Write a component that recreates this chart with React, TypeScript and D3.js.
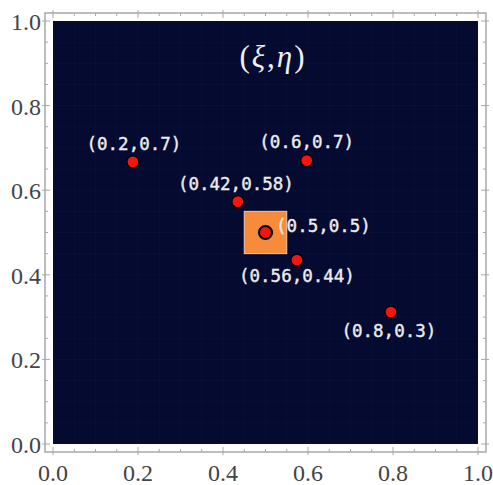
import React from "react";
import * as d3 from "d3";

const pointX = [0.188, 0.597, 0.435, 0.5, 0.574, 0.795];
const pointY = [0.667, 0.67, 0.573, 0.5, 0.435, 0.312];
const pointLabels = ["(0.2,0.7)", "(0.6,0.7)", "(0.42,0.58)", "(0.5,0.5)", "(0.56,0.44)", "(0.8,0.3)"];
const centerIndex = 3;
const squareRange = [0.45, 0.55];
const tickValues = [0, 0.2, 0.4, 0.6, 0.8, 1.0];
const tickLabels = ["0.0", "0.2", "0.4", "0.6", "0.8", "1.0"];
const titleParts = ["(", "ξ", ",", "η", ")"];

// layout (pixel offsets of labels from their points)
const labelDx = [1, 0, -2, 58, 0, -2];
const labelDy = [-18, -19, -18, -7, 16, 19];

const W = 493, H = 485;
const X0 = 53, X1 = 478, Y0 = 444, Y1 = 21;
const PAD = 8;

export default function App() {
  const x = d3.scaleLinear().domain([0, 1]).range([X0, X1]);
  const y = d3.scaleLinear().domain([0, 1]).range([Y0, Y1]);
  const minor = d3.range(0, 1.0001, 0.05);
  const grid = d3.range(0, 1.0001, 0.05);
  const fL = X0 - PAD, fR = X1 + PAD, fT = Y1 - PAD, fB = Y0 + PAD;
  const isMajor = (v: number) => Math.abs(v * 5 - Math.round(v * 5)) < 1e-6;
  const frameColor = "#a8a8a8";
  const serif = "'Liberation Serif', 'Times New Roman', serif";
  return (
    <svg width={W} height={H} style={{ position: "absolute", left: 0, top: 0, background: "#fff" }}>
      <rect x={fL} y={fT} width={fR - fL} height={fB - fT} fill="#fff" stroke={frameColor} strokeWidth={1.5} />
      {minor.map((v, i) => {
        const m = isMajor(v);
        const len = m ? 5 : 3;
        const out = m ? 3 : 0;
        return (
          <g key={"t" + i} stroke={frameColor} strokeWidth={1}>
            <line x1={x(v)} x2={x(v)} y1={fB + out} y2={fB - len} />
            <line x1={x(v)} x2={x(v)} y1={fT - out} y2={fT + len} />
            <line y1={y(v)} y2={y(v)} x1={fL - out} x2={fL + len} />
            <line y1={y(v)} y2={y(v)} x1={fR + out} x2={fR - len} />
          </g>
        );
      })}
      <rect x={X0} y={Y1} width={X1 - X0} height={Y0 - Y1} fill="#040a30" />
      <g stroke="#ffffff" strokeOpacity={0.025} strokeWidth={1}>
        {grid.map((v, i) => (
          <g key={"g" + i}>
            <line x1={x(v)} x2={x(v)} y1={Y1} y2={Y0} />
            <line y1={y(v)} y2={y(v)} x1={X0} x2={X1} />
          </g>
        ))}
      </g>
      {tickValues.map((v, i) => (
        <text key={"xl" + i} x={x(v)} y={473} textAnchor="middle" dominantBaseline="central"
          fontFamily={serif} fontSize={24} fill="#444">{tickLabels[i]}</text>
      ))}
      {tickValues.map((v, i) => (
        <text key={"yl" + i} x={41} y={y(v) + 1} textAnchor="end" dominantBaseline="central"
          fontFamily={serif} fontSize={24} fill="#444">{tickLabels[i]}</text>
      ))}
      <text x={273} y={56} textAnchor="middle" dominantBaseline="central"
        fontFamily={serif} fontSize={31} fill="#f0f0f0" letterSpacing={2}>
        {titleParts.map((t, i) => (
          <tspan key={"tp" + i} fontStyle={i % 2 === 1 ? "italic" : "normal"}>{t}</tspan>
        ))}
      </text>
      <rect x={x(squareRange[0])} y={y(squareRange[1])} width={x(squareRange[1]) - x(squareRange[0])}
        height={y(squareRange[0]) - y(squareRange[1])} fill="#f68b3c" stroke="#f5c9a8" strokeWidth={1} />
      {pointX.map((px, i) => (
        <circle key={"p" + i} cx={x(px)} cy={y(pointY[i])} r={i === centerIndex ? 6.5 : 6}
          fill="#f5140e" stroke="#000" strokeWidth={i === centerIndex ? 2.2 : 1.3} />
      ))}
      {pointX.map((px, i) => (
        <text key={"l" + i} x={x(px) + labelDx[i]} y={y(pointY[i]) + labelDy[i]} textAnchor="middle"
          dominantBaseline="central" fontFamily="'DejaVu Sans Mono', monospace" fontSize={17.5}
          fill="#ececec" stroke="#ececec" strokeWidth={0.4}>
          {pointLabels[i]}
        </text>
      ))}
    </svg>
  );
}
